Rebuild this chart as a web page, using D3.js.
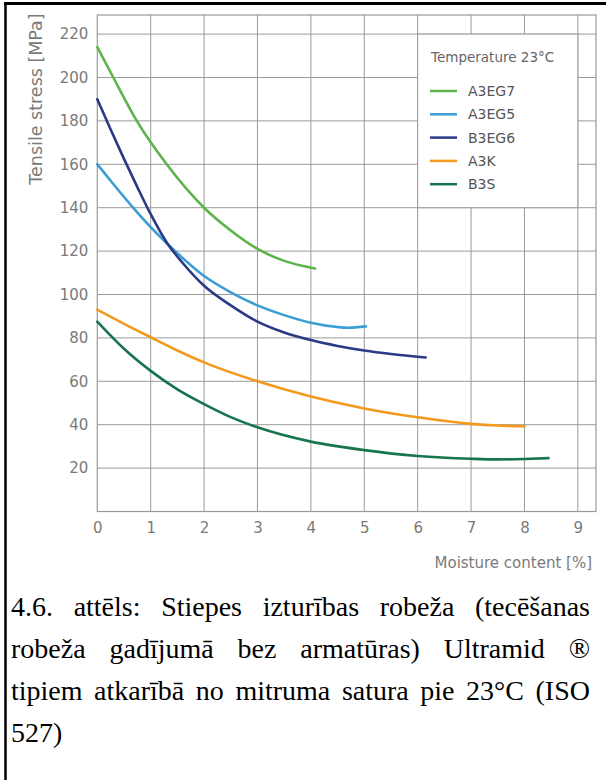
<!DOCTYPE html>
<html>
<head>
<meta charset="utf-8">
<script src="https://cdn.jsdelivr.net/npm/d3@7"></script>
<style>
  html, body { margin: 0; padding: 0; background: #fff; }
  svg { display: block; }
</style>
</head>
<body>
<svg id="chart" width="606" height="780"></svg>
<script>
// ---------------- DATA ----------------
const seriesNames = ["A3EG7", "A3EG5", "B3EG6", "A3K", "B3S"];
const seriesColors = ["#5db44a", "#3c9dd5", "#2b3a86", "#f39a1e", "#17754e"];

const a3eg7_x = [0, 0.3, 0.74, 1.3, 2.0, 2.5, 3.0, 3.5, 4.08];
const a3eg7_y = [214, 200, 180, 160, 140, 129.5, 121, 115.5, 112];

const a3eg5_x = [0, 0.33, 0.67, 1.0, 1.5, 2.0, 2.5, 3.0, 3.5, 4.0, 4.5, 4.7, 5.03];
const a3eg5_y = [160, 150, 140, 131, 119, 108.5, 101, 95, 90.5, 87, 85, 84.7, 85.3];

const b3eg6_x = [0, 0.25, 0.5, 0.75, 1.0, 1.3, 1.6, 2.0, 2.5, 3.0, 3.5, 4.0, 4.5, 5.0, 5.5, 6.15];
const b3eg6_y = [190, 176, 162.5, 149.5, 137, 124, 114.5, 104, 95, 87.5, 82.5, 79, 76.3, 74.2, 72.6, 71];

const a3k_x = [0, 0.5, 1, 1.5, 2, 3, 4, 5, 6, 7, 7.5, 8.0];
const a3k_y = [93, 86.5, 80.3, 74.2, 68.7, 60, 53, 47.5, 43.4, 40.4, 39.6, 39.3];

const b3s_x = [0, 0.5, 1, 1.5, 2, 2.5, 3, 4, 5, 6, 7, 7.5, 8, 8.45];
const b3s_y = [87.5, 75, 64.8, 56.3, 49.5, 43.5, 38.8, 32.2, 28.3, 25.6, 24.3, 24, 24.2, 24.6];

const xTicks = [0, 1, 2, 3, 4, 5, 6, 7, 8, 9];
const yTicks = [20, 40, 60, 80, 100, 120, 140, 160, 180, 200, 220];

const yTitle = "Tensile stress [MPa]";
const xTitle = "Moisture content [%]";
const legendTitle = "Temperature 23°C";
const captionLines = [
  "4.6. attēls: Stiepes izturības robeža (tecēšanas",
  "robeža gadījumā bez armatūras) Ultramid ®",
  "tipiem atkarībā no mitruma satura pie 23°C (ISO",
  "527)"
];

// ---------------- LAYOUT ----------------
const svg = d3.select("#chart");
const plot = { left: 97.3, right: 596, top: 15, bottom: 511.5 };
const x = d3.scaleLinear().domain([0, 9.34]).range([plot.left, plot.right]);
const y = d3.scaleLinear().domain([0, 228.8]).range([plot.bottom, plot.top]);

const sansFont = "'DejaVu Sans', 'Liberation Sans', sans-serif";
const gridColor = "#9a9a9a";
const textGray = "#7a7a7a";

// outer border (left + top)
svg.append("line").attr("x1", 5.5).attr("x2", 5.5).attr("y1", 2).attr("y2", 780)
  .attr("stroke", "#000").attr("stroke-width", 2.5);
svg.append("line").attr("x1", 4).attr("x2", 606).attr("y1", 3.5).attr("y2", 3.5)
  .attr("stroke", "#000").attr("stroke-width", 3);

const g = svg.append("g");

// gridlines
g.append("g").selectAll("line").data(xTicks.filter(d => d > 0)).join("line")
  .attr("x1", d => x(d)).attr("x2", d => x(d))
  .attr("y1", plot.top).attr("y2", plot.bottom)
  .attr("stroke", gridColor).attr("stroke-width", 1);
g.append("g").selectAll("line").data(yTicks).join("line")
  .attr("x1", plot.left).attr("x2", plot.right)
  .attr("y1", d => y(d)).attr("y2", d => y(d))
  .attr("stroke", gridColor).attr("stroke-width", 1);

// frame
g.append("rect")
  .attr("x", plot.left).attr("y", plot.top)
  .attr("width", plot.right - plot.left).attr("height", plot.bottom - plot.top)
  .attr("fill", "none").attr("stroke", gridColor).attr("stroke-width", 1.2);

// axes (labels via d3 axes)
const xAxis = d3.axisBottom(x).tickValues(xTicks).tickSize(0).tickPadding(11).tickFormat(d3.format("d"));
const yAxis = d3.axisLeft(y).tickValues(yTicks).tickSize(0).tickPadding(9).tickFormat(d3.format("d"));

const gx = g.append("g").attr("transform", `translate(0,${plot.bottom})`).call(xAxis);
const gy = g.append("g").attr("transform", `translate(${plot.left},0)`).call(yAxis);
[gx, gy].forEach(a => {
  a.select(".domain").remove();
  a.selectAll("text").attr("fill", textGray).style("font-family", sansFont).style("font-size", "15px");
});

// axis titles
g.append("text").attr("x", 592).attr("y", 568).attr("text-anchor", "end")
  .attr("fill", textGray).style("font-family", sansFont).style("font-size", "15px")
  .text(xTitle);
g.append("text").attr("transform", "translate(42,99) rotate(-90)")
  .attr("text-anchor", "middle").attr("fill", textGray)
  .style("font-family", sansFont).style("font-size", "17.5px")
  .text(yTitle);

// legend box
const lg = g.append("g");
lg.append("rect")
  .attr("x", x(6)).attr("y", y(220))
  .attr("width", x(9) - x(6)).attr("height", y(140) - y(220))
  .attr("fill", "#fff").attr("stroke", gridColor).attr("stroke-width", 1);
lg.append("text").attr("x", 431).attr("y", 62)
  .attr("fill", "#666").style("font-family", sansFont).style("font-size", "13.5px")
  .text(legendTitle);
seriesNames.forEach((name, i) => {
  const ly = 91 + i * 23.3;
  lg.append("line").attr("x1", 430).attr("x2", 457).attr("y1", ly).attr("y2", ly)
    .attr("stroke", seriesColors[i]).attr("stroke-width", 2.5);
  lg.append("text").attr("x", 468).attr("y", ly).attr("dy", "0.36em")
    .attr("fill", "#555").style("font-family", sansFont).style("font-size", "14px")
    .text(name);
});

// series lines
const allX = [a3eg7_x, a3eg5_x, b3eg6_x, a3k_x, b3s_x];
const allY = [a3eg7_y, a3eg5_y, b3eg6_y, a3k_y, b3s_y];
const line = d3.line().x(d => x(d[0])).y(d => y(d[1])).curve(d3.curveMonotoneX);
seriesNames.forEach((name, i) => {
  const pts = allX[i].map((v, j) => [v, allY[i][j]]);
  g.append("path").datum(pts)
    .attr("d", line)
    .attr("fill", "none").attr("stroke", seriesColors[i])
    .attr("stroke-width", 2.6).attr("stroke-linecap", "round");
});

// caption (justified)
const capLeft = 11, capRight = 590;
const capBaselines = [616, 658, 700, 742];
const capFont = "'Liberation Serif', 'Times New Roman', serif";
captionLines.forEach((ln, i) => {
  const words = ln.split(" ");
  const justify = i < captionLines.length - 1;
  const tmp = words.map(w => svg.append("text")
    .style("font-family", capFont).style("font-size", "28px")
    .attr("fill", "#000").attr("y", capBaselines[i]).text(w));
  const widths = tmp.map(t => t.node().getComputedTextLength());
  const total = d3.sum(widths);
  const gap = justify ? (capRight - capLeft - total) / (words.length - 1) : 7;
  let cx = capLeft;
  tmp.forEach((t, j) => { t.attr("x", cx); cx += widths[j] + gap; });
});
</script>
</body>
</html>
